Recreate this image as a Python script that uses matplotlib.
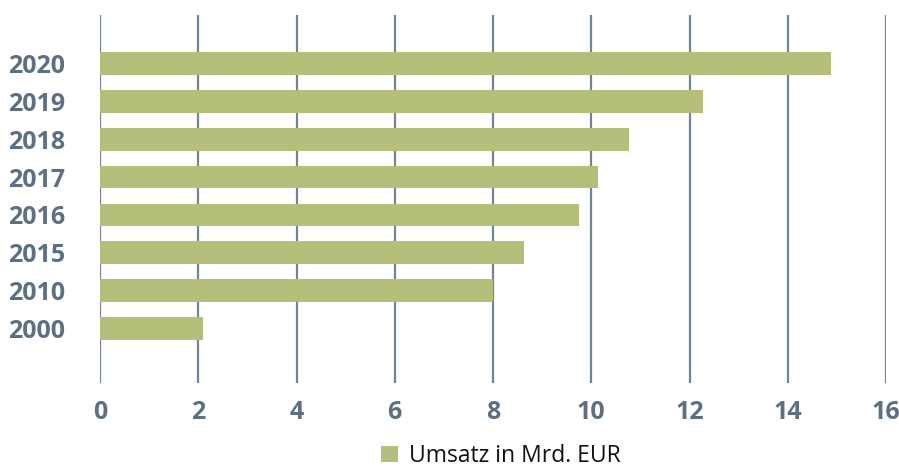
import matplotlib
matplotlib.use("Agg")
import matplotlib.pyplot as plt
from matplotlib.patches import Patch

years = ["2000", "2010", "2015", "2016", "2017", "2018", "2019", "2020"]
umsatz = [2.1, 8.0, 8.63, 9.75, 10.14, 10.77, 12.27, 14.89]
xticks = [0, 2, 4, 6, 8, 10, 12, 14, 16]
legend_label = "Umsatz in Mrd. EUR"

bar_color = "#b5bf7a"
label_color = "#5b6f87"
grid_color = "#71859a"

plt.rcParams['font.family'] = ['Open Sans', 'DejaVu Sans']

fig = plt.figure(figsize=(8.99, 4.67), dpi=100)
ax = fig.add_axes([100/899, 1-383/467, 786/899, 368/467])

ypos = list(range(len(years)))
ax.barh(ypos, umsatz, height=0.6, color=bar_color, zorder=3)

ax.set_xlim(0, 16)
ax.set_ylim(-1.44, 8.28)
ax.set_xticks(xticks)
ax.set_xticklabels([str(t) for t in xticks])
ax.set_yticks(ypos)
ax.set_yticklabels(years)

for s in ax.spines.values():
    s.set_visible(False)
ax.grid(axis='x', color=grid_color, linewidth=1.6, zorder=1)
ax.grid(axis='y', visible=False)
ax.tick_params(axis='both', length=0, labelsize=18, labelcolor=label_color)
ax.tick_params(axis='x', pad=12)
ax.tick_params(axis='y', pad=25)
for lbl in ax.get_xticklabels() + ax.get_yticklabels():
    lbl.set_fontweight('bold')

handles = [Patch(facecolor=bar_color, edgecolor='none', label=legend_label)]
fig.legend(handles=handles, loc='center', bbox_to_anchor=(501/899, 1-456/467),
           frameon=False, fontsize=16.5, handlelength=0.75, handleheight=0.75,
           handletextpad=0.5, labelcolor='#111111')

fig.savefig("out.png", dpi=100)
